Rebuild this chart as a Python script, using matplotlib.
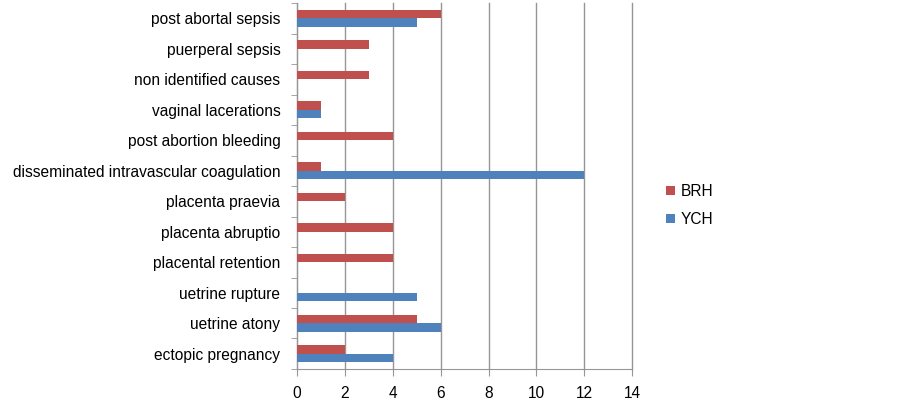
import matplotlib.pyplot as plt
import numpy as np

plt.rcParams['font.family'] = ['Liberation Sans', 'DejaVu Sans']

# Data (bottom to top)
causes = ['ectopic pregnancy', 'uetrine atony', 'uetrine rupture', 'placental retention',
          'placenta abruptio', 'placenta praevia', 'disseminated intravascular coagulation',
          'post abortion bleeding', 'vaginal lacerations', 'non identified causes',
          'puerperal sepsis', 'post abortal sepsis']
brh = [2, 5, 0, 4, 4, 2, 1, 4, 1, 3, 3, 6]
ych = [4, 6, 5, 0, 0, 0, 12, 0, 1, 0, 0, 5]

red = '#C0504D'
blue = '#4F81BD'
grid_col = '#969696'

fig = plt.figure(figsize=(9.03, 4.03), dpi=100)
ax = fig.add_axes([0.329, 0.0844, 0.371, 0.908])

y = np.arange(len(causes))
h = 0.28
ax.barh(y + h / 2, brh, height=h, color=red, label='BRH', zorder=3)
ax.barh(y - h / 2, ych, height=h, color=blue, label='YCH', zorder=3)

ax.set_xlim(0, 14)
ax.set_ylim(-0.5, len(causes) - 0.5)
ax.set_xticks(range(0, 15, 2))
ax.set_yticks(y)
ax.set_yticklabels(causes)
ax.set_yticks(np.arange(-0.5, len(causes), 1), minor=True)

ax.grid(axis='x', color=grid_col, linewidth=1, zorder=0)
for gl in ax.get_xgridlines():
    gl.set_clip_on(False)
for s in ['top', 'right']:
    ax.spines[s].set_visible(False)
ax.spines['left'].set_color(grid_col)
ax.spines['bottom'].set_color(grid_col)

ax.tick_params(axis='y', which='major', length=0, pad=12, labelsize=11.2)
ax.tick_params(axis='y', which='minor', length=4, color=grid_col)
ax.tick_params(axis='x', length=5, color=grid_col, pad=7, labelsize=11.2)

handles, labels = ax.get_legend_handles_labels()
fig.legend(handles, labels, loc='center left', bbox_to_anchor=(0.722, 0.49),
           frameon=False, fontsize=11.2, handlelength=0.55, handleheight=0.55,
           handletextpad=0.4, labelspacing=0.85)

fig.savefig('out.png', dpi=100)
